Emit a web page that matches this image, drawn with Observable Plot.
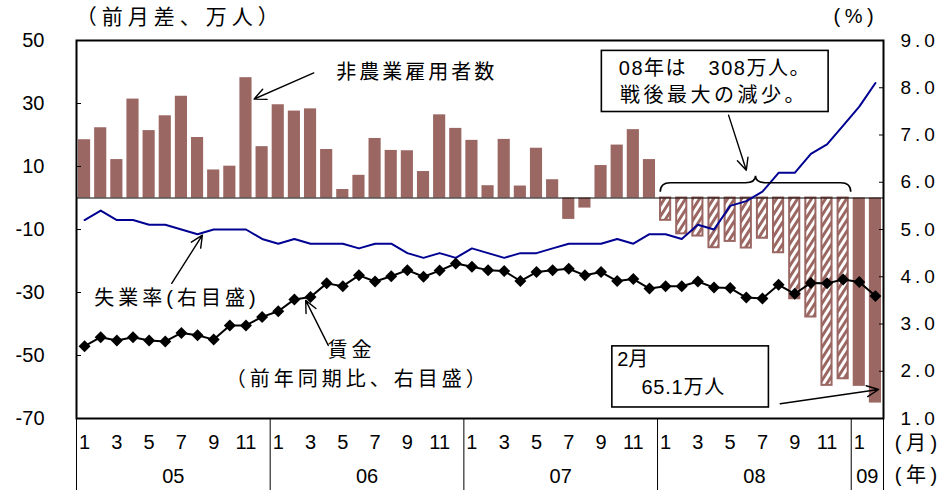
<!DOCTYPE html>
<html>
<head>
<meta charset="utf-8">
<script src="https://cdn.jsdelivr.net/npm/d3@7"></script>
<script src="https://cdn.jsdelivr.net/npm/@observablehq/plot@0.6"></script>
<style>
  body { margin: 0; background: #fff; }
</style>
</head>
<body>
<div id="chart"></div>
<script>
// Monthly series, Jan 2005 – Feb 2009
const years = ["05", "06", "07", "08", "09"];
const monthsPerYear = [12, 12, 12, 12, 2];

// Nonfarm payrolls, change from previous month (10,000 persons)
const payrolls = [
  18.5, 22.3, 12.2, 31.4, 21.4, 26.1, 32.3, 19.2, 8.9, 10.1, 38.2, 16.3,
  29.6, 27.6, 28.3, 15.4, 2.7, 7.2, 18.9, 15.1, 15.0, 8.4, 26.4, 22.1,
  18.3, 3.9, 18.6, 3.8, 15.8, 5.8, -6.8, -3.2, 10.3, 16.8, 21.7, 12.2,
  -7.4, -11.7, -12.4, -16.1, -14.1, -16.2, -13.1, -17.7, -32.3, -38.1, -59.8, -57.7,
  -59.8, -65.1
];

// Unemployment rate (%), right scale
const unemployment = [
  5.2, 5.4, 5.2, 5.2, 5.1, 5.1, 5.0, 4.9, 5.0, 5.0, 5.0, 4.8,
  4.7, 4.8, 4.7, 4.7, 4.7, 4.6, 4.7, 4.7, 4.5, 4.4, 4.5, 4.4,
  4.6, 4.5, 4.4, 4.5, 4.5, 4.6, 4.7, 4.7, 4.7, 4.8, 4.7, 4.9,
  4.9, 4.8, 5.1, 5.0, 5.5, 5.6, 5.8, 6.2, 6.2, 6.6, 6.8, 7.2,
  7.6, 8.1
];

// Hourly earnings, year-on-year (%), right scale
const wages = [
  2.53, 2.72, 2.65, 2.72, 2.65, 2.63, 2.81, 2.76, 2.67, 2.97, 2.97, 3.15,
  3.27, 3.52, 3.57, 3.86, 3.80, 4.03, 3.90, 4.01, 4.14, 4.00, 4.13, 4.28,
  4.21, 4.14, 4.12, 3.91, 4.10, 4.14, 4.17, 4.03, 4.10, 3.91, 3.95, 3.75,
  3.80, 3.80, 3.90, 3.77, 3.76, 3.56, 3.54, 3.83, 3.64, 3.87, 3.86, 3.94,
  3.89, 3.59
];

const leftTicks = [50, 30, 10, -10, -30, -50, -70];
const rightTicks = [9, 8, 7, 6, 5, 4, 3, 2, 1];
const monthTicks = ["1", "3", "5", "7", "9", "11"];

const FONT = "'Liberation Sans', 'Noto Sans CJK JP', sans-serif";
const BAR = "#9b6763";
const BLUE = "#000092";

// right scale (1.0–9.0 %) laid onto the left scale (-70–50)
const toLeft = r => (r - 1) * 15 - 70;
const fromLeft = v => (v + 70) / 15 + 1;

// month index table
const months = [];
years.forEach((yr, k) => {
  for (let m = 1; m <= monthsPerYear[k]; m++) months.push({year: yr, month: m});
});
const rows = months.map((d, i) => ({
  i, ...d,
  payrolls: payrolls[i],
  unemployment: toLeft(unemployment[i]),
  wages: toLeft(wages[i]),
  hatched: d.year === "08"
}));

const monthTickIdx = rows.filter(d => monthTicks.includes(String(d.month))).map(d => d.i);
const yearStarts = [];
let acc = 0;
monthsPerYear.forEach(n => { yearStarts.push(acc); acc += n; });
const yearCenters = yearStarts.map((s, k) => s + (monthsPerYear[k] - 1) / 2);
const yearBounds = [...yearStarts.map(s => s - 0.5), acc - 0.5];

// letter spacing per label text
const spacing = {
  "（前月差、万人）": 5,
  "(%)": 4.5,
  "(月)": 4.5,
  "(年)": 4.5,
  "非農業雇用者数": 3,
  "08年は　308万人。": 1.5,
  "戦後最大の減少。": 3.5,
  "失業率(右目盛)": 4,
  "賃金": 4,
  "（前年同期比、右目盛）": 4,
  "65.1万人": 0.8
};

const txt = (data, opts) => Plot.text(data, {
  x: "x", y: "y", text: "t", fontFamily: FONT, fill: "#000",
  lineAnchor: "middle", textAnchor: "start", fontSize: 20, ...opts
});
const arrow = (data) => Plot.arrow(data, {
  x1: "x1", y1: "y1", x2: "x2", y2: "y2",
  stroke: "#000", strokeWidth: 1.4, headLength: 14, headAngle: 50
});

const plot = Plot.plot({
  width: 944,
  height: 492,
  marginLeft: 76,
  marginRight: 61,
  marginTop: 40,
  marginBottom: 74,
  style: {fontFamily: FONT, background: "#fff", overflow: "visible"},
  x: {type: "linear", domain: [-0.5, acc - 0.5], axis: null},
  y: {domain: [-70, 50], axis: null},
  marks: [
    // payroll bars
    Plot.rectY(rows.filter(d => !d.hatched), {
      x1: d => d.i - 0.5, x2: d => d.i + 0.5, y1: 0, y2: "payrolls",
      insetLeft: 2, insetRight: 2, fill: BAR
    }),
    Plot.rectY(rows.filter(d => d.hatched), {
      x1: d => d.i - 0.5, x2: d => d.i + 0.5, y1: 0, y2: "payrolls",
      insetLeft: 3, insetRight: 3, insetBottom: 1, fill: "url(#hatch)", stroke: BAR, strokeWidth: 2
    }),
    Plot.ruleY([0], {stroke: "#000", strokeWidth: 1}),
    // unemployment rate
    Plot.line(rows, {x: "i", y: "unemployment", stroke: BLUE, strokeWidth: 2}),
    // wages
    Plot.line(rows, {x: "i", y: "wages", stroke: "#000", strokeWidth: 2}),
    Plot.dot(rows, {x: "i", y: "wages", symbol: "diamond2", r: 5.4, fill: "#000", stroke: null}),
    Plot.frame({stroke: "#000", strokeWidth: 2}),

    // axes
    Plot.axisY({
      anchor: "left", ticks: leftTicks, tickFormat: d => String(d),
      tickSize: -5, tickPadding: 37, fontSize: 20, label: null, fontFamily: FONT
    }),
    Plot.axisY({
      anchor: "right", ticks: rightTicks.map(toLeft), tickFormat: v => fromLeft(v).toFixed(1),
      tickSize: -5, tickPadding: 22, fontSize: 19, label: null, fontFamily: FONT
    }),
    Plot.axisX({
      ticks: monthTickIdx, tickFormat: i => String(months[i].month),
      tickSize: 0, tickPadding: 16, fontSize: 20, label: null, fontFamily: FONT
    }),
    Plot.axisX({
      ticks: yearCenters, tickFormat: c => years[yearCenters.indexOf(c)],
      tickSize: 0, tickPadding: 50, fontSize: 20, label: null, fontFamily: FONT
    }),
    Plot.axisX({
      ticks: yearBounds, tickFormat: () => "", tickSize: 72, label: null, strokeWidth: 1
    }),

    // unit labels
    txt([{x: -0.54, y: 57.5, t: "（前月差、万人）"}], {fontSize: 21}),
    txt([{x: 46.4, y: 57.5, t: "(%)"}], {}),
    txt([{x: 50.2, y: -78, t: "(月)"}, {x: 50.2, y: -88.2, t: "(年)"}], {fontSize: 20}),

    // callout: nonfarm payrolls
    arrow([{x1: 14.2, y1: 39.7, x2: 10.5, y2: 31.4}]),
    txt([{x: 15.6, y: 39.7, t: "非農業雇用者数"}], {}),

    // callout: 2008 total
    Plot.rect([{x1: 32.05, x2: 46.1, y1: 27.3, y2: 46.7}], {
      x1: "x1", x2: "x2", y1: "y1", y2: "y2", fill: "#fff", stroke: "#000", strokeWidth: 1.6
    }),
    txt([{x: 39.05, y: 41.0, t: "08年は　308万人。"}, {x: 39.0, y: 32.5, t: "戦後最大の減少。"}], {textAnchor: "middle"}),
    arrow([{x1: 39.9, y1: 26.3, x2: 41.0, y2: 8.8}]),

    // callout: unemployment
    arrow([{x1: 5.4, y1: -27.1, x2: 7.3, y2: -11.8}]),
    txt([{x: 0.6, y: -32.0, t: "失業率(右目盛)"}], {}),

    // callout: wages
    arrow([{x1: 15.1, y1: -46.8, x2: 13.7, y2: -32.5}]),
    txt([{x: 15.05, y: -48.4, t: "賃金"}, {x: 8.74, y: -57.6, t: "（前年同期比、右目盛）"}], {}),

    // callout: February 2009
    Plot.rect([{x1: 32.7, x2: 42.4, y1: -66.5, y2: -47.1}], {
      x1: "x1", x2: "x2", y1: "y1", y2: "y2", fill: "#fff", stroke: "#000", strokeWidth: 1.6
    }),
    txt([{x: 33.0, y: -51.4, t: "2月"}, {x: 34.5, y: -60.3, t: "65.1万人"}], {}),
    arrow([{x1: 43.1, y1: -65.3, x2: 49.2, y2: -60.8}])
  ]
});

const svg = d3.select(plot);

// hatch pattern for the 2008 bars
const defs = svg.insert("defs", ":first-child");
const pat = defs.append("pattern")
  .attr("id", "hatch").attr("patternUnits", "userSpaceOnUse")
  .attr("width", 7).attr("height", 11);
pat.append("rect").attr("width", 7).attr("height", 11).attr("fill", "#fff");
pat.append("path")
  .attr("d", "M-1,12.6 L8,-1.6 M-8,12.6 L1,-1.6 M6,12.6 L15,-1.6")
  .attr("stroke", BAR).attr("stroke-width", 2.9).attr("fill", "none");

// wider spacing on the right-hand tick labels
svg.selectAll('g[aria-label="y-axis tick label"]').filter((d, k) => k === 1)
  .style("letter-spacing", "4px");

// label letter spacing
svg.selectAll("text").each(function () {
  const s = spacing[this.textContent];
  if (s) this.style.letterSpacing = s + "px";
});

// brace spanning the 2008 months
const sx = plot.scale("x"), sy = plot.scale("y");
const bx1 = sx.apply(35.7), bx2 = sx.apply(47.5), bm = sx.apply(41.6);
const yb = sy.apply(1.8), yf = sy.apply(4.7), yp = sy.apply(6.9);
const r = 10;
const p = d3.path();
p.moveTo(bx1, yb);
p.quadraticCurveTo(bx1, yf, bx1 + r, yf);
p.lineTo(bm - r, yf);
p.quadraticCurveTo(bm, yf, bm, yp);
p.quadraticCurveTo(bm, yf, bm + r, yf);
p.lineTo(bx2 - r, yf);
p.quadraticCurveTo(bx2, yf, bx2, yb);
svg.append("path").attr("d", p.toString())
  .attr("fill", "none").attr("stroke", "#000").attr("stroke-width", 1.6);

document.getElementById("chart").append(plot);
</script>
</body>
</html>
